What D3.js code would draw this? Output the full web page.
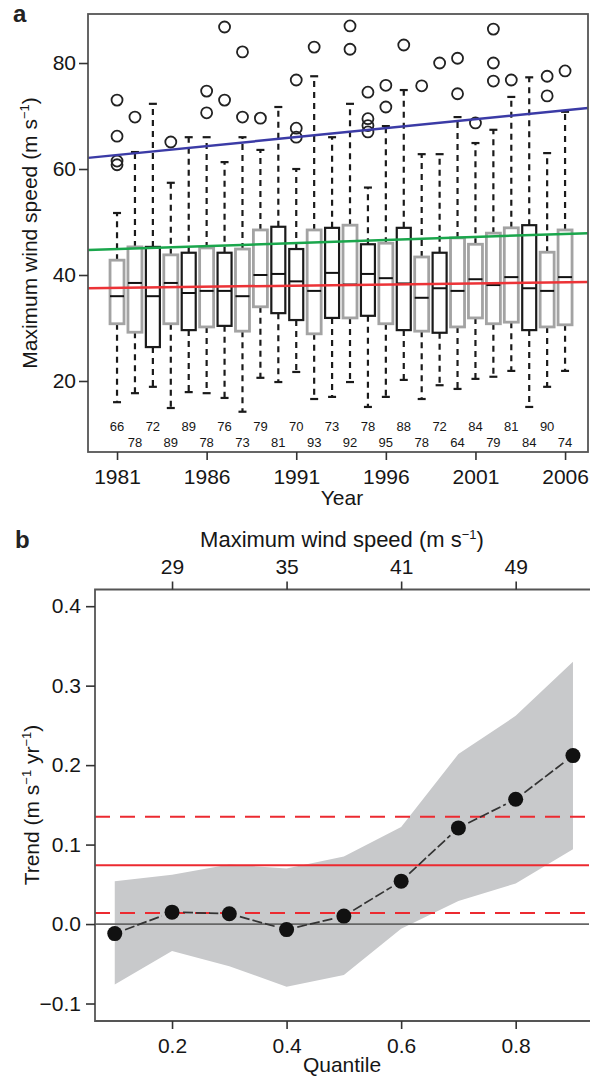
<!DOCTYPE html>
<html>
<head>
<meta charset="utf-8">
<script src="https://cdn.jsdelivr.net/npm/d3@7"></script>
<style>
  body { margin: 0; background: #fff; }
  svg { display: block; font-family: "Liberation Sans", Arial, sans-serif; }
  .axis text { font-size: 21px; fill: #161616; }
  .axis line { stroke: #333; stroke-width: 1.6; }
  .axis path { display: none; }
</style>
</head>
<body>
<div id="chart"></div>
<script>
// ---- panel a data (one box per year) ----
const years = [1981,1982,1983,1984,1985,1986,1987,1988,1989,1990,1991,1992,1993,
               1994,1995,1996,1997,1998,1999,2000,2001,2002,2003,2004,2005,2006];
const whiskerLow  = [16.0,17.7,18.9,14.9,17.9,17.7,16.8,14.2,20.6,19.8,21.7,16.6,17.0,
                     19.8,15.1,17.0,20.2,16.6,19.2,18.5,20.4,20.8,21.9,15.1,18.9,21.9];
const q1          = [30.8,29.2,26.4,30.8,29.6,30.2,30.4,29.4,34.0,32.8,31.5,28.9,31.9,
                     31.9,32.3,30.8,29.6,29.4,29.1,30.2,31.9,30.8,31.1,29.6,30.2,30.6];
const median      = [36.0,38.5,36.0,38.5,36.6,37.0,37.0,36.0,40.0,40.2,38.8,37.0,40.4,
                     38.2,40.2,39.4,38.4,35.7,37.5,37.0,39.2,38.1,39.6,37.5,37.0,39.6];
const q3          = [42.8,45.3,45.3,43.8,44.2,45.1,44.2,44.9,48.5,49.1,44.9,48.5,48.9,
                     49.4,45.8,46.0,48.9,43.4,44.2,47.0,45.8,47.9,48.9,49.4,44.3,48.5];
const whiskerHigh = [51.7,63.2,72.3,57.4,66.0,66.0,61.3,66.0,63.6,71.7,60.0,77.5,66.0,
                     72.3,56.5,68.1,74.9,62.8,62.8,69.8,64.9,67.4,73.6,77.3,63.0,70.8];
const outliers = [
  [73.0,66.2,61.5,60.8], [69.8], [], [65.1], [], [74.7,70.6], [86.8,73.0], [82.1,69.8],
  [69.6], [], [76.8,67.7,66.0], [83.0], [], [87.0,82.6], [74.5,69.5,68.2,67.0],
  [75.8,71.7], [83.4], [75.7], [80.0], [80.9,74.2], [68.7], [86.4,80.0,76.6], [76.8],
  [], [77.5,73.8], [78.5]
];
const counts = [66,78,72,89,89,78,76,73,79,81,70,93,73,92,78,95,88,78,72,64,84,79,81,84,90,74];
const darkYears = [1983,1985,1987,1990,1991,1993,1995,1997,1999,2004];

// fitted trend lines across the panel (value at first and last year of the axis)
const trendYears = [1979.38, 2007.28];
const blueTrend  = [62.1, 71.5];
const greenTrend = [44.7, 47.9];
const redTrend   = [37.5, 38.7];

// ---- panel b data ----
const quantiles = [0.1,0.2,0.3,0.4,0.5,0.6,0.7,0.8,0.9];
const trend     = [-0.012,0.015,0.013,-0.007,0.010,0.054,0.121,0.157,0.212];
const bandLow   = [-0.076,-0.034,-0.053,-0.079,-0.064,-0.006,0.029,0.051,0.094];
const bandHigh  = [0.054,0.062,0.075,0.070,0.085,0.122,0.214,0.262,0.330];
const meanTrend = [0.074];
const meanTrendCI = [0.014, 0.135];
const topTickLabels = ["29","35","41","49"];

const svg = d3.select("#chart")
  .append("svg")
  .attr("width", 590)
  .attr("height", 1079);

// helper for labels with superscripts: parts = [[text, isSup], ...]
function addParts(t, parts) {
  parts.forEach(([s, sup], i) => {
    const prevSup = i > 0 && parts[i-1][1];
    t.append("tspan").text(s)
      .attr("font-size", sup ? "13px" : null)
      .attr("dy", sup ? "-8px" : (prevSup ? "8px" : null));
  });
}

// =============== panel a ===============
const xA = d3.scaleLinear().domain([1979.38, 2007.28]).range([88, 588]);
const yA = d3.scaleLinear().domain([6.6, 89.25]).range([452, 14]);
const boxW = 14;

const gA = svg.append("g");

years.forEach((yr, i) => {
  const cx = xA(yr);
  const dark = darkYears.includes(yr);
  // whiskers
  gA.append("line").attr("x1", cx).attr("x2", cx)
    .attr("y1", yA(q3[i])).attr("y2", yA(whiskerHigh[i]))
    .attr("stroke", "#1a1a1a").attr("stroke-width", 2.2).attr("stroke-dasharray", "6,5");
  gA.append("line").attr("x1", cx).attr("x2", cx)
    .attr("y1", yA(q1[i])).attr("y2", yA(whiskerLow[i]))
    .attr("stroke", "#1a1a1a").attr("stroke-width", 2.2).attr("stroke-dasharray", "6,5");
  [whiskerHigh[i], whiskerLow[i]].forEach(v => {
    gA.append("line").attr("x1", cx - 4).attr("x2", cx + 4)
      .attr("y1", yA(v)).attr("y2", yA(v))
      .attr("stroke", "#1a1a1a").attr("stroke-width", 2.2);
  });
  // box
  gA.append("rect")
    .attr("x", cx - boxW / 2).attr("width", boxW)
    .attr("y", yA(q3[i])).attr("height", yA(q1[i]) - yA(q3[i]))
    .attr("fill", "#fff")
    .attr("stroke", dark ? "#1a1a1a" : "#a3a3a3")
    .attr("stroke-width", dark ? 2.2 : 2.8);
  gA.append("line").attr("x1", cx - boxW / 2).attr("x2", cx + boxW / 2)
    .attr("y1", yA(median[i])).attr("y2", yA(median[i]))
    .attr("stroke", "#111").attr("stroke-width", 2);
  // outliers
  outliers[i].forEach(v => {
    gA.append("circle").attr("cx", cx).attr("cy", yA(v)).attr("r", 5.5)
      .attr("fill", "none").attr("stroke", "#222").attr("stroke-width", 1.8);
  });
  // sample sizes
  gA.append("text").attr("x", cx).attr("y", i % 2 === 0 ? 431 : 447)
    .attr("text-anchor", "middle").attr("font-size", 13).attr("fill", "#161616")
    .text(counts[i]);
});

// trend lines
const trendLine = d3.line().x((d, j) => xA(trendYears[j])).y(d => yA(d));
[[blueTrend, "#3b3ba6"], [greenTrend, "#1aa64c"], [redTrend, "#ec3337"]].forEach(([vals, col]) => {
  gA.append("path").datum(vals).attr("d", trendLine)
    .attr("fill", "none").attr("stroke", col).attr("stroke-width", 2.5);
});

// frame
gA.append("rect").attr("x", 88).attr("y", 14).attr("width", 500).attr("height", 438)
  .attr("fill", "none").attr("stroke", "#555").attr("stroke-width", 1.8);

gA.append("g").attr("class", "axis").attr("transform", "translate(88,0)")
  .call(d3.axisLeft(yA).tickValues([20, 40, 60, 80]).tickSize(9).tickPadding(3));
gA.append("g").attr("class", "axis").attr("transform", "translate(0,452)")
  .call(d3.axisBottom(xA).tickValues([1981, 1986, 1991, 1996, 2001, 2006])
    .tickFormat(d3.format("d")).tickSize(8).tickPadding(9));

gA.append("text").attr("x", 342).attr("y", 505).attr("text-anchor", "middle")
  .attr("font-size", 21).attr("fill", "#161616").text("Year");
addParts(gA.append("text").attr("transform", "translate(37,233) rotate(-90)")
  .attr("text-anchor", "middle").attr("font-size", 21).attr("fill", "#161616"),
  [["Maximum wind speed (m s", false], ["\u22121", true], [")", false]]);

svg.append("text").attr("x", 13).attr("y", 22).attr("font-size", 24)
  .attr("font-weight", "bold").attr("fill", "#222").text("a");

// =============== panel b ===============
const xB = d3.scaleLinear().domain([0.0655, 0.928]).range([95, 589]);
const yB = d3.scaleLinear().domain([-0.122, 0.421]).range([1021, 589.5]);
const gB = svg.append("g");

// uncertainty band
gB.append("path").datum(quantiles)
  .attr("d", d3.area().x(d => xB(d))
    .y0((d, j) => yB(bandLow[j])).y1((d, j) => yB(bandHigh[j])))
  .attr("fill", "#c8c9cb");

// zero line
gB.append("line").attr("x1", xB.range()[0]).attr("x2", xB.range()[1])
  .attr("y1", yB(0)).attr("y2", yB(0)).attr("stroke", "#666").attr("stroke-width", 1.8);

// overall trend and its interval
gB.append("line").attr("x1", xB.range()[0]).attr("x2", xB.range()[1])
  .attr("y1", yB(meanTrend[0])).attr("y2", yB(meanTrend[0]))
  .attr("stroke", "#ec2a30").attr("stroke-width", 2);
meanTrendCI.forEach(v => {
  gB.append("line").attr("x1", xB.range()[0]).attr("x2", xB.range()[1])
    .attr("y1", yB(v)).attr("y2", yB(v))
    .attr("stroke", "#ec2a30").attr("stroke-width", 2).attr("stroke-dasharray", "15,10");
});

// dashed connectors between points, leaving a gap around each dot
for (let j = 0; j < quantiles.length - 1; j++) {
  const xa = xB(quantiles[j]), ya = yB(trend[j]);
  const xb = xB(quantiles[j + 1]), yb = yB(trend[j + 1]);
  const len = Math.hypot(xb - xa, yb - ya), ux = (xb - xa) / len, uy = (yb - ya) / len;
  gB.append("line")
    .attr("x1", xa + ux * 11).attr("y1", ya + uy * 11)
    .attr("x2", xb - ux * 11).attr("y2", yb - uy * 11)
    .attr("stroke", "#333").attr("stroke-width", 1.7).attr("stroke-dasharray", "10,3");
}
gB.selectAll("circle.pt").data(quantiles).join("circle")
  .attr("class", "pt")
  .attr("cx", d => xB(d)).attr("cy", (d, j) => yB(trend[j])).attr("r", 7.5)
  .attr("fill", "#111");

// frame (left, top, bottom)
gB.append("path")
  .attr("d", d3.line()([[590, 589.5], [95, 589.5], [95, 1021], [590, 1021]]))
  .attr("fill", "none").attr("stroke", "#555").attr("stroke-width", 1.8);

gB.append("g").attr("class", "axis").attr("transform", "translate(95,0)")
  .call(d3.axisLeft(yB).tickValues([-0.1, 0, 0.1, 0.2, 0.3, 0.4])
    .tickFormat(d3.format(".1f")).tickSize(9).tickPadding(5));
gB.append("g").attr("class", "axis").attr("transform", "translate(0,1021)")
  .call(d3.axisBottom(xB).tickValues([0.2, 0.4, 0.6, 0.8])
    .tickFormat(d3.format(".1f")).tickSize(8).tickPadding(9));
gB.append("g").attr("class", "axis").attr("transform", "translate(0,589.5)")
  .call(d3.axisTop(xB).tickValues([0.2, 0.4, 0.6, 0.8])
    .tickFormat((d, j) => topTickLabels[j]).tickSize(8).tickPadding(8));

gB.append("text").attr("x", 342).attr("y", 1072).attr("text-anchor", "middle")
  .attr("font-size", 21).attr("fill", "#161616").text("Quantile");
addParts(gB.append("text").attr("x", 342).attr("y", 547).attr("text-anchor", "middle")
  .attr("font-size", 22).attr("fill", "#161616"),
  [["Maximum wind speed (m s", false], ["\u22121", true], [")", false]]);
addParts(gB.append("text").attr("transform", "translate(39,805) rotate(-90)")
  .attr("text-anchor", "middle").attr("font-size", 21).attr("fill", "#161616"),
  [["Trend (m s", false], ["\u22121", true], [" yr", false], ["\u22121", true], [")", false]]);

svg.append("text").attr("x", 15).attr("y", 548).attr("font-size", 24)
  .attr("font-weight", "bold").attr("fill", "#222").text("b");
</script>
</body>
</html>
